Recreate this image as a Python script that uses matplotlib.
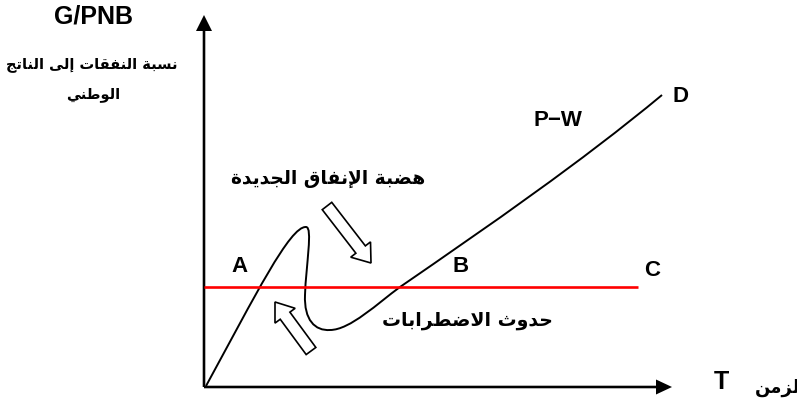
import matplotlib
matplotlib.use("Agg")
import matplotlib.pyplot as plt
from matplotlib.path import Path
from matplotlib.patches import PathPatch, FancyArrow

# --- diagram data (origin = corner of the two axes, 1 unit ~ 1 px) ---
# curve O -> A -> bump -> trough -> B -> D, as cubic bezier control points
curve_x = [2, 51, 86, 102, 109, 102, 101, 100, 111, 126, 146, 174, 196, 286, 376, 458]
curve_y = [1, 91, 161, 160, 160, 122, 92, 67, 56, 57, 57, 84, 100, 162, 224, 292]

# horizontal level A-B-C
level_y = 100
level_x = [0, 434]

# axis ends
x_axis_end = 468
y_axis_end = 372

# hollow arrows: (tail x, tail y, tip x, tip y)
arrow_down = (123, 181, 167, 124)
arrow_up = (107, 36, 71, 85)

# labels
point_labels = ["A", "B", "C", "D"]
point_x = [36, 257, 448, 477]
point_y = [120, 120, 116, 290]

y_title = "G/PNB"
y_title_ar = ["نسبة النفقات إلى الناتج", "الوطني"]
x_title = "T"
x_title_ar = "الزمن"
plateau_label = "هضبة الإنفاق الجديدة"
shock_label = "حدوث الاضطرابات"
pw_label = "P\u2212W"

# --- minimal arabic shaping (matplotlib has no text shaping) ---
# letter: (isolated, final, initial, medial)
FORMS = {
    'ا': ('\uFE8D', '\uFE8E', None, None),
    'إ': ('\uFE87', '\uFE88', None, None),
    'ب': ('\uFE8F', '\uFE90', '\uFE91', '\uFE92'),
    'ة': ('\uFE93', '\uFE94', None, None),
    'ت': ('\uFE95', '\uFE96', '\uFE97', '\uFE98'),
    'ث': ('\uFE99', '\uFE9A', '\uFE9B', '\uFE9C'),
    'ج': ('\uFE9D', '\uFE9E', '\uFE9F', '\uFEA0'),
    'ح': ('\uFEA1', '\uFEA2', '\uFEA3', '\uFEA4'),
    'د': ('\uFEA9', '\uFEAA', None, None),
    'ر': ('\uFEAD', '\uFEAE', None, None),
    'ز': ('\uFEAF', '\uFEB0', None, None),
    'س': ('\uFEB1', '\uFEB2', '\uFEB3', '\uFEB4'),
    'ض': ('\uFEBD', '\uFEBE', '\uFEBF', '\uFEC0'),
    'ط': ('\uFEC1', '\uFEC2', '\uFEC3', '\uFEC4'),
    'ف': ('\uFED1', '\uFED2', '\uFED3', '\uFED4'),
    'ق': ('\uFED5', '\uFED6', '\uFED7', '\uFED8'),
    'ل': ('\uFEDD', '\uFEDE', '\uFEDF', '\uFEE0'),
    'م': ('\uFEE1', '\uFEE2', '\uFEE3', '\uFEE4'),
    'ن': ('\uFEE5', '\uFEE6', '\uFEE7', '\uFEE8'),
    'ه': ('\uFEE9', '\uFEEA', '\uFEEB', '\uFEEC'),
    'و': ('\uFEED', '\uFEEE', None, None),
    'ى': ('\uFEEF', '\uFEF0', None, None),
    'ي': ('\uFEF1', '\uFEF2', '\uFEF3', '\uFEF4'),
}
LAM_ALEF = {'ا': ('\uFEFB', '\uFEFC'), 'إ': ('\uFEF9', '\uFEFA'),
            'أ': ('\uFEF7', '\uFEF8'), 'آ': ('\uFEF5', '\uFEF6')}


def shape(text):
    toks = []
    i = 0
    while i < len(text):
        c = text[i]
        if c == 'ل' and i + 1 < len(text) and text[i + 1] in LAM_ALEF:
            toks.append(('LA', text[i + 1]))
            i += 2
        else:
            toks.append(c)
            i += 1

    def joins_next(t):
        return isinstance(t, str) and t in FORMS and FORMS[t][2] is not None

    def joins_prev(t):
        return isinstance(t, tuple) or t in FORMS

    out = []
    for k, t in enumerate(toks):
        jp = k > 0 and joins_next(toks[k - 1]) and joins_prev(t)
        jn = k < len(toks) - 1 and joins_next(t) and joins_prev(toks[k + 1])
        if isinstance(t, tuple):
            out.append(LAM_ALEF[t[1]][1 if jp else 0])
        elif t in FORMS:
            iso, fin, ini, med = FORMS[t]
            if jp and jn:
                out.append(med)
            elif jp:
                out.append(fin)
            elif jn:
                out.append(ini)
            else:
                out.append(iso)
        else:
            out.append(t)
    return ''.join(out)[::-1]


fig = plt.figure(figsize=(7.97, 4.05), dpi=100)
ax = fig.add_axes([0, 0, 1, 1])
ax.set_xlim(-204, 593)
ax.set_ylim(-18, 387)
ax.axis('off')

# axes with filled arrow heads
ax.add_patch(FancyArrow(0, 0, x_axis_end, 0, width=2.6, head_width=15, head_length=16,
                        length_includes_head=True, color='black', lw=0))
ax.add_patch(FancyArrow(0, 0, 0, y_axis_end, width=2.6, head_width=16, head_length=16,
                        length_includes_head=True, color='black', lw=0))

# red level line
ax.plot(level_x, [level_y, level_y], color='#ff0000', lw=1.9, solid_capstyle='butt')

# main curve
verts = list(zip(curve_x, curve_y))
codes = [Path.MOVETO] + [Path.CURVE4] * (len(verts) - 1)
ax.add_patch(PathPatch(Path(verts, codes), fill=False, lw=1.4, edgecolor='black'))

# hollow arrows
for tx, ty, hx, hy in (arrow_down, arrow_up):
    ax.add_patch(FancyArrow(tx, ty, hx - tx, hy - ty, width=12, head_width=25, head_length=17,
                            length_includes_head=True, facecolor='white', edgecolor='black',
                            lw=1.2, zorder=3))

latin = dict(family='Liberation Sans', weight='bold', color='black')
arab = dict(family='DejaVu Sans', weight='bold', color='black')

for lab, x, y in zip(point_labels, point_x, point_y):
    ax.text(x, y, lab, fontsize=16, ha='center', va='center', **latin)
ax.text(354, 266, pw_label, fontsize=16, ha='center', va='center', **latin)
ax.text(-111, 370, y_title, fontsize=18, ha='center', va='center', **latin)
ax.text(517, 5, x_title, fontsize=18, ha='center', va='center', **latin)

ax.text(-112, 323, shape(y_title_ar[0]), fontsize=10.5, ha='center', va='center', **arab)
ax.text(-111, 292, shape(y_title_ar[1]), fontsize=10.5, ha='center', va='center', **arab)
ax.text(124, 209, shape(plateau_label), fontsize=13.4, ha='center', va='center', **arab)
ax.text(263, 66, shape(shock_label), fontsize=13.6, ha='center', va='center', **arab)
ax.text(551, -1, shape(x_title_ar), fontsize=13, ha='left', va='center', **arab)

fig.savefig('out.png', dpi=100)
